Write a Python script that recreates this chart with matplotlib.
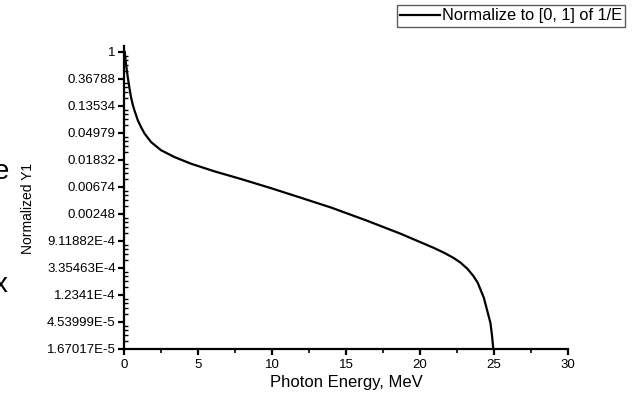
import numpy as np
import matplotlib
matplotlib.use("Agg")
import matplotlib.pyplot as plt
from matplotlib.ticker import FixedLocator, MultipleLocator, NullFormatter

plt.rcParams['font.family'] = ['Liberation Sans', 'DejaVu Sans']

# curve (photon energy in MeV, normalized 1/E)
energy = [0.05, 0.12, 0.25, 0.36, 0.47, 0.58, 0.70, 0.93, 1.15, 1.38, 1.83,
          2.51, 3.41, 4.54, 6.12, 8.0, 10.0, 12.0, 14.0, 16.4, 18.7, 20.9,
          21.6, 22.25, 22.75, 23.2, 23.6, 23.9, 24.31, 24.55, 24.76, 24.87,
          24.95]
norm_y = [1.0, 0.68, 0.40, 0.27, 0.19, 0.145, 0.116, 0.080, 0.062, 0.049,
          0.0355, 0.0262, 0.0204, 0.0159, 0.0120, 0.00891, 0.00637, 0.00448,
          0.00314, 0.00194, 0.00119, 7.11e-4, 5.94e-4, 4.90e-4, 4.07e-4,
          3.26e-4, 2.51e-4, 1.94e-4, 1.12e-4, 6.8e-5, 4.37e-5, 2.7e-5,
          1.67017e-5]

ytick_vals = [np.exp(-n) for n in range(12)]
ytick_labels = ["1", "0.36788", "0.13534", "0.04979", "0.01832", "0.00674",
                "0.00248", "9.11882E-4", "3.35463E-4", "1.2341E-4",
                "4.53999E-5", "1.67017E-5"]

fig = plt.figure(figsize=(6.37, 3.96), dpi=100)
ax = fig.add_axes([124 / 637, 1 - 349 / 396, 444 / 637, 303 / 396])

ax.plot(energy, norm_y, color="black", lw=1.6, label="Normalize to [0, 1] of 1/E")

ax.set_yscale("log", base=np.e)
ax.set_xlim(0, 30)
ax.set_ylim(1.67017e-5, np.exp(0.22))

ax.yaxis.set_major_locator(FixedLocator(ytick_vals))
ax.set_yticklabels(ytick_labels)
minor = []
for n in range(1, 12):
    base = np.exp(-n)
    for k in range(1, 5):
        minor.append(base * (1 + k * (np.e - 1) / 5))
ax.yaxis.set_minor_locator(FixedLocator(minor))
ax.yaxis.set_minor_formatter(NullFormatter())

ax.xaxis.set_major_locator(MultipleLocator(5))
ax.xaxis.set_minor_locator(MultipleLocator(2.5))

for s in ["top", "right"]:
    ax.spines[s].set_visible(False)
for s in ["left", "bottom"]:
    ax.spines[s].set_linewidth(1.6)

ax.tick_params(axis="y", which="major", direction="out", length=4, width=1.6, labelsize=9.5, pad=2)
ax.tick_params(axis="y", which="minor", direction="in", length=3, width=1.0)
ax.tick_params(axis="x", which="major", direction="out", length=4, width=1.6, labelsize=9.5, pad=3)
ax.tick_params(axis="x", which="minor", direction="out", length=3, width=1.2)

ax.set_xlabel("Photon Energy, MeV", fontsize=12, labelpad=3)
fig.text(28 / 637, 1 - 208 / 396, "Normalized Y1", rotation=90, fontsize=10,
         ha="center", va="center")

leg = fig.legend(loc="upper left", bbox_to_anchor=(397 / 637, 1 - 5 / 396),
                 fontsize=11.8, frameon=True, fancybox=False, handlelength=2.4,
                 handletextpad=0.15, borderpad=0.2, borderaxespad=0)
leg.get_frame().set_edgecolor("#333333")
leg.get_frame().set_linewidth(1.0)

# stray text cut from the surrounding document
fig.text(9 / 637, 1 - 172 / 396, "e", fontsize=20, ha="right", va="center")
fig.text(8 / 637, 1 - 285 / 396, "x", fontsize=20, ha="right", va="center")

fig.savefig("out.png", dpi=100)
